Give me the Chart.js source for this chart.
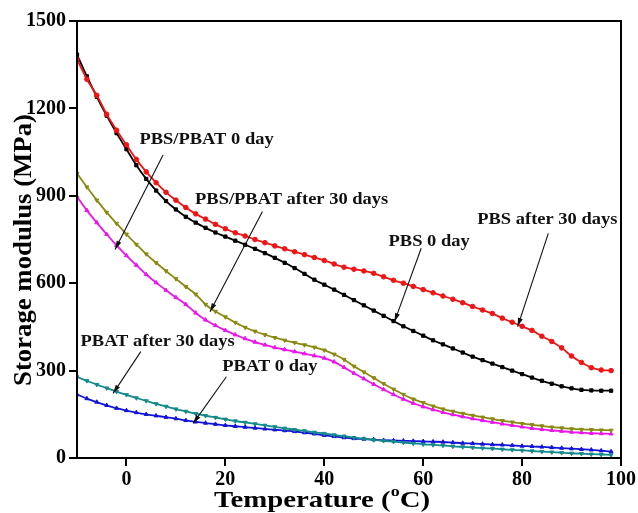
<!DOCTYPE html>
<html>
<head>
<meta charset="utf-8">
<script src="https://cdn.jsdelivr.net/npm/chart.js@4"></script>
<style>
  body { margin: 0; background: #fff; }
  #wrap { width: 638px; height: 513px; }
</style>
</head>
<body>
<div id="wrap"><canvas id="dma" width="638" height="513"></canvas></div>
<script>
// Temperature points (deg C) shared by every curve
const temps = [-10, -8, -6, -4, -2, 0, 2, 4, 6, 8, 10, 12, 14, 16, 18, 20, 22, 24, 26, 28, 30, 32, 34, 36, 38, 40, 42, 44, 46, 48, 50, 52, 54, 56, 58, 60, 62, 64, 66, 68, 70, 72, 74, 76, 78, 80, 82, 84, 86, 88, 90, 92, 94, 96, 98];

// Storage modulus (MPa)
const pbs30 = [1368, 1300, 1245, 1180, 1125, 1075, 1025, 982, 945, 912, 885, 860, 838, 820, 802, 787, 773, 762, 750, 739, 728, 718, 708, 698, 688, 678, 666, 655, 648, 642, 634, 622, 610, 600, 589, 578, 567, 556, 545, 533, 520, 508, 496, 480, 466, 452, 438, 418, 400, 378, 350, 328, 310, 302, 300];
const pbs0 = [1385, 1310, 1240, 1175, 1115, 1060, 1005, 958, 918, 882, 853, 828, 808, 790, 774, 760, 746, 732, 718, 703, 687, 670, 652, 632, 612, 595, 578, 560, 542, 524, 506, 488, 470, 452, 436, 420, 404, 390, 376, 362, 348, 336, 324, 312, 300, 288, 276, 265, 255, 246, 239, 234, 232, 231, 231];
const blend30 = [977, 930, 885, 843, 805, 768, 733, 700, 670, 642, 615, 588, 562, 527, 503, 484, 465, 448, 435, 423, 413, 404, 396, 388, 380, 370, 356, 338, 315, 295, 275, 255, 236, 218, 202, 190, 178, 168, 160, 153, 146, 140, 134, 128, 123, 118, 114, 110, 106, 103, 100, 98, 97, 96, 95];
const blend0 = [897, 850, 808, 768, 730, 695, 662, 630, 602, 576, 551, 527, 498, 474, 455, 438, 423, 410, 398, 388, 379, 372, 365, 358, 351, 343, 330, 311, 291, 272, 253, 235, 218, 202, 188, 176, 166, 157, 149, 142, 135, 129, 123, 117, 112, 107, 102, 98, 95, 92, 89, 87, 85, 84, 83];
const pbat30 = [278, 265, 252, 240, 228, 217, 206, 196, 186, 177, 168, 160, 152, 145, 139, 133, 127, 122, 117, 112, 107, 102, 97, 93, 88, 84, 79, 75, 70, 66, 62, 59, 56, 53, 50, 47, 45, 43, 40, 38, 36, 34, 32, 30, 28, 26, 24, 22, 20, 18, 16, 15, 13, 12, 11];
const pbat0 = [218, 204, 192, 181, 171, 163, 156, 150, 145, 140, 135, 129, 124, 120, 116, 112, 109, 106, 103, 100, 97, 94, 91, 87, 83, 78, 74, 70, 67, 65, 63, 61, 60, 59, 58, 57, 56, 55, 53, 51, 50, 48, 46, 45, 43, 41, 40, 38, 36, 34, 32, 30, 28, 25, 22];

const xTickValues = [0, 20, 40, 60, 80, 100];

// Labels with arrows, in data units: [text, textX, textY, fromX, fromY, tipX, tipY]
const callouts = [
  ['PBS/PBAT 0 day', 16.2, 1092, 7.4, 1040, -2.3, 716],
  ['PBS/PBAT after 30 days', 33.4, 886, 27.5, 846, 16.9, 502],
  ['PBS 0 day', 61.2, 742, 59.6, 720, 54.2, 468],
  ['PBS after 30 days', 85.1, 817, 85.3, 771, 79.1, 451],
  ['PBAT after 30 days', 6.3, 398, 2.9, 365, -2.7, 222],
  ['PBAT 0 day', 29, 312, 20.2, 279, 13.5, 119]
];

const serif = '"Liberation Serif", "Times New Roman", serif';

const makeSeries = (label, values, color, pointStyle, rotation = 0) => ({
  label,
  data: temps.map((t, i) => ({ x: t, y: values[i] })),
  borderColor: color,
  backgroundColor: color,
  borderWidth: 1.8,
  pointStyle,
  pointRotation: rotation,
  pointRadius: 2.3,
  pointBorderWidth: 1,
  tension: 0.3
});

// Frame, axis titles and arrow callouts
const decorations = {
  id: 'decorations',
  afterDraw(chart) {
    const { ctx, chartArea: a, scales: { x, y } } = chart;
    ctx.save();
    ctx.strokeStyle = '#000';
    ctx.lineWidth = 2;
    ctx.strokeRect(a.left, a.top, a.right - a.left, a.bottom - a.top);

    // callouts (text a bit wide, like the original scan)
    ctx.fillStyle = '#111';
    ctx.strokeStyle = '#111';
    ctx.lineWidth = 1.1;
    ctx.textBaseline = 'middle';
    callouts.forEach(([text, tx, ty, fx, fy, px, py]) => {
      ctx.save();
      ctx.font = `bold 16.5px ${serif}`;
      ctx.textAlign = 'center';
      ctx.translate(x.getPixelForValue(tx), y.getPixelForValue(ty));
      ctx.scale(1.12, 1);
      ctx.fillText(text, 0, 0);
      ctx.restore();
      const x1 = x.getPixelForValue(fx), y1 = y.getPixelForValue(fy);
      const x2 = x.getPixelForValue(px), y2 = y.getPixelForValue(py);
      ctx.beginPath();
      ctx.moveTo(x1, y1);
      ctx.lineTo(x2, y2);
      ctx.stroke();
      const ang = Math.atan2(y2 - y1, x2 - x1);
      ctx.beginPath();
      ctx.moveTo(x2, y2);
      ctx.lineTo(x2 - 9 * Math.cos(ang - 0.28), y2 - 9 * Math.sin(ang - 0.28));
      ctx.lineTo(x2 - 9 * Math.cos(ang + 0.28), y2 - 9 * Math.sin(ang + 0.28));
      ctx.closePath();
      ctx.fill();
    });

    // x title with superscript o
    ctx.fillStyle = '#000';
    ctx.textBaseline = 'alphabetic';
    ctx.textAlign = 'left';
    const big = `bold 24px ${serif}`, small = `bold 15px ${serif}`;
    const parts = [['Temperature (', big, 0], ['o', small, -11], ['C)', big, 0]];
    let total = 0;
    parts.forEach(([t, f]) => { ctx.font = f; total += ctx.measureText(t).width; });
    ctx.save();
    ctx.translate(322, 507);
    ctx.scale(1.2, 1);
    let cx = -total / 2;
    parts.forEach(([t, f, dy]) => {
      ctx.font = f;
      ctx.fillText(t, cx, dy);
      cx += ctx.measureText(t).width;
    });
    ctx.restore();

    // y title
    ctx.translate(25, 250);
    ctx.rotate(-Math.PI / 2);
    ctx.scale(1.07, 1);
    ctx.textAlign = 'center';
    ctx.textBaseline = 'middle';
    ctx.font = `bold 25px ${serif}`;
    ctx.fillText('Storage modulus (MPa)', 0, 0);
    ctx.restore();
  }
};

new Chart(document.getElementById('dma').getContext('2d'), {
  type: 'line',
  data: {
    datasets: [
      makeSeries('PBS after 30 days', pbs30, '#f01414', 'circle'),
      makeSeries('PBS 0 day', pbs0, '#000000', 'rect'),
      makeSeries('PBS/PBAT after 30 days', blend30, '#8a8a12', 'triangle', 180),
      makeSeries('PBS/PBAT 0 day', blend0, '#ee14ee', 'triangle'),
      makeSeries('PBAT after 30 days', pbat30, '#148a8a', 'triangle', 180),
      makeSeries('PBAT 0 day', pbat0, '#1414d8', 'triangle')
    ]
  },
  options: {
    responsive: false,
    animation: false,
    layout: { padding: { left: 0, top: 21, right: 16, bottom: 0 } },
    plugins: {
      legend: { display: false },
      tooltip: { enabled: false }
    },
    scales: {
      x: {
        type: 'linear',
        min: -10,
        max: 100,
        afterBuildTicks: (scale) => { scale.ticks = xTickValues.map(v => ({ value: v })); },
        afterFit: (scale) => { scale.height = 55; },
        ticks: { color: '#000', font: { family: serif, size: 20, weight: 'bold' }, padding: 2, maxRotation: 0,
          callback: (v) => String(v) },
        grid: { drawOnChartArea: false, drawTicks: true, tickLength: 8, color: '#000', lineWidth: 2 },
        border: { display: true, color: '#000', width: 2 }
      },
      y: {
        min: 0,
        max: 1500,
        afterFit: (scale) => { scale.width = 77; },
        ticks: { stepSize: 300, color: '#000', font: { family: serif, size: 20, weight: 'bold' }, padding: 3,
          callback: (v) => String(v) },
        grid: { drawOnChartArea: false, drawTicks: true, tickLength: 8, color: '#000', lineWidth: 2 },
        border: { display: true, color: '#000', width: 2 }
      }
    }
  },
  plugins: [decorations]
});
</script>
</body>
</html>
